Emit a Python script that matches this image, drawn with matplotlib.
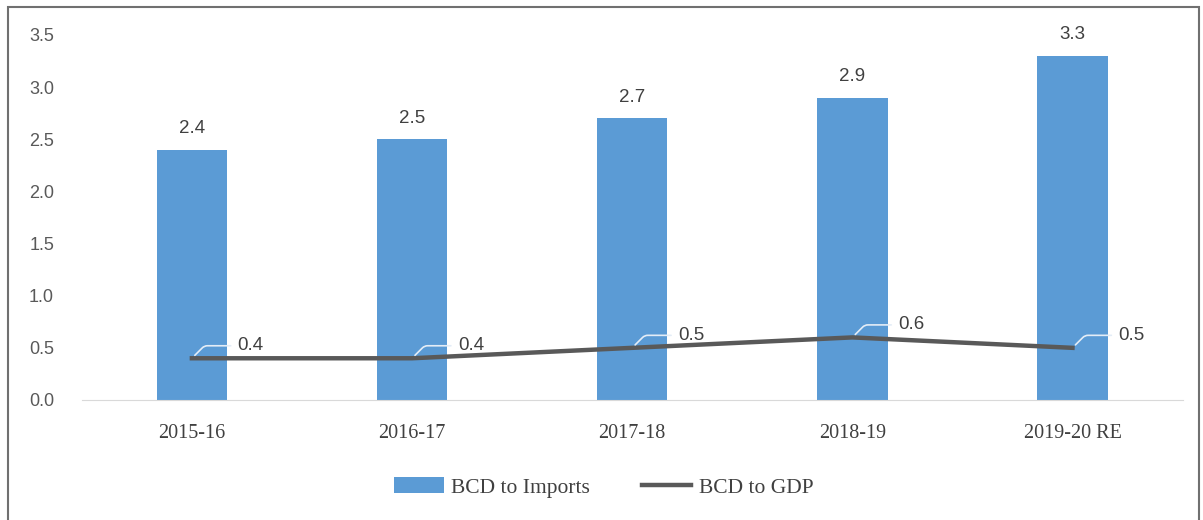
import matplotlib.pyplot as plt
import numpy as np
from matplotlib.patches import Rectangle

years = ['2015-16', '2016-17', '2017-18', '2018-19', '2019-20 RE']
bcd_imports = [2.4, 2.5, 2.7, 2.9, 3.3]
bcd_gdp = [0.4, 0.4, 0.5, 0.6, 0.5]

BLUE = '#5B9BD5'
GREY = '#595959'


def main():
	fig = plt.figure(figsize=(12.03, 5.2), dpi=100)
	ax = fig.add_axes([0.068, 0.2308, 0.915, 0.702])

	x = np.arange(len(years))
	bars = ax.bar(x, bcd_imports, width=0.32, color=BLUE, label='BCD to Imports', zorder=2)
	line, = ax.plot(x, bcd_gdp, color=GREY, linewidth=3.2, label='BCD to GDP', zorder=3)

	# value labels over the bars
	for xi, v in zip(x, bcd_imports):
		ax.annotate('{:.1f}'.format(v), (xi, v), xytext=(0, 9), textcoords='offset points',
			ha='center', va='bottom', fontsize=13.5, color='#404040', family='Liberation Sans')

	# labels for the line with short leader lines
	for xi, v in zip(x, bcd_gdp):
		ax.annotate('{:.1f}'.format(v), (xi, v), xytext=(33, 9), textcoords='offset points',
			ha='left', va='center', fontsize=13.5, color='#404040', family='Liberation Sans',
			arrowprops=dict(arrowstyle='-', color='#e4edf7', lw=1.2,
				connectionstyle='angle,angleA=0,angleB=45,rad=3', shrinkA=3, shrinkB=3))

	ax.set_ylim(0, 3.5)
	ax.set_xlim(-0.5, len(years) - 0.5)
	ax.set_yticks(np.arange(0, 3.51, 0.5))
	ax.set_yticklabels(['{:.1f}'.format(t) for t in np.arange(0, 3.51, 0.5)],
		family='Liberation Sans', fontsize=13, color='#595959')
	ax.set_xticks(x)
	ax.set_xticklabels(years, family='Liberation Serif', fontsize=14.5, color='#404040')
	ax.tick_params(axis='x', length=0, pad=17)
	ax.tick_params(axis='y', length=0, pad=20)

	for s in ['top', 'right', 'left']:
		ax.spines[s].set_visible(False)
	ax.spines['bottom'].set_color('#d9d9d9')

	fig.legend(handles=[bars, line], loc='center', bbox_to_anchor=(0.502, 0.063), ncol=2,
		frameon=False, prop={'family': 'Liberation Serif', 'size': 15.5},
		handlelength=2.3, handleheight=0.8, columnspacing=2.4, handletextpad=0.35,
		labelcolor='#404040')

	# outer frame
	fig.patches.append(Rectangle((0.007, -0.01), 0.99, 0.997, transform=fig.transFigure,
		fill=False, edgecolor='#707070', linewidth=1.5))

	fig.savefig('out.png', dpi=100)


if __name__ == '__main__':
	main()
